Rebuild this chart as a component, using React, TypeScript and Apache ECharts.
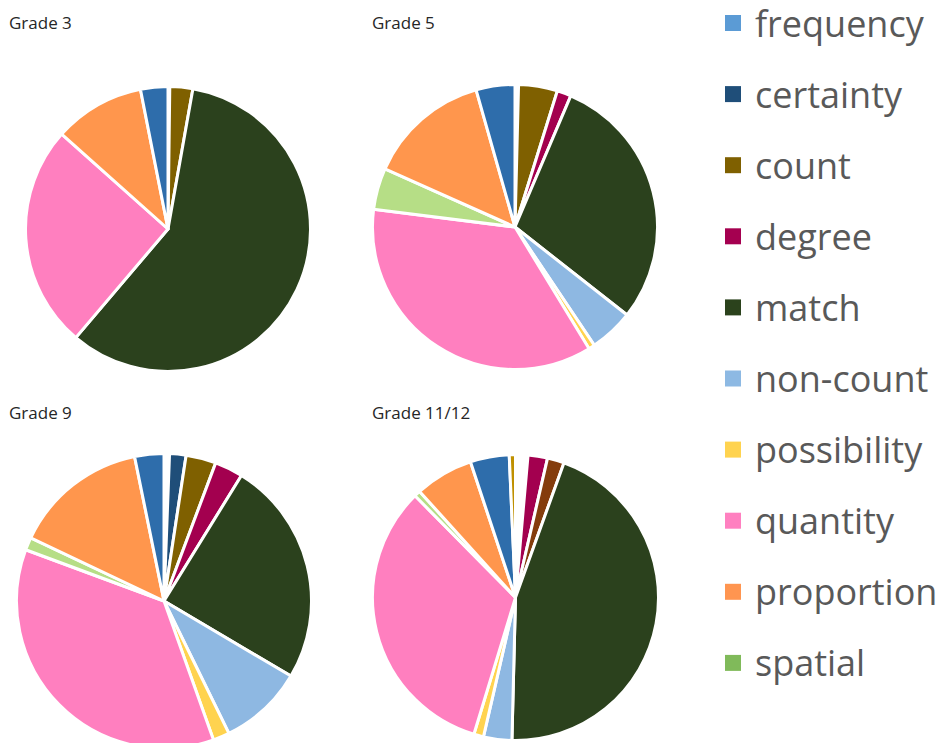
import React, { useEffect, useRef } from "react";
import * as echarts from "echarts";

// Slice order, clockwise from 12 o'clock
const categories = [
  "blank",
  "certainty",
  "count",
  "degree",
  "other (brown)",
  "match",
  "non-count",
  "possibility",
  "quantity",
  "spatial",
  "proportion",
  "frequency",
  "other (gold)",
];
const sliceColors = [
  "#FFFFFF",
  "#1F4E79",
  "#7F6000",
  "#A3004F",
  "#843C0C",
  "#2B411D",
  "#8EB8E2",
  "#FFD34F",
  "#FF7FBF",
  "#B6DE86",
  "#FF964D",
  "#2E6DAB",
  "#BF9000",
];

// Shares (%) per grade, in the order of `categories`
const grade3 = [0.2, 0, 2.6, 0, 0, 58.4, 0, 0, 25.4, 0, 10.3, 3.1, 0];
const grade5 = [0.4, 0, 4.4, 1.6, 0, 29.2, 5.0, 0.7, 35.7, 4.7, 13.9, 4.4, 0];
const grade9 = [0.6, 1.8, 3.3, 3.1, 0, 24.7, 9.25, 1.8, 36.1, 1.4, 14.75, 3.2, 0];
const grade1112 = [1.4, 0, 0, 2.2, 1.9, 44.9, 3.2, 1.1, 32.9, 0.7, 6.6, 4.4, 0.7];

const gradeTitles = ["Grade 3", "Grade 5", "Grade 9", "Grade 11/12"];
const gradeValues = [grade3, grade5, grade9, grade1112];

const legendNames = [
  "frequency",
  "certainty",
  "count",
  "degree",
  "match",
  "non-count",
  "possibility",
  "quantity",
  "proportion",
  "spatial",
];
const legendColors = [
  "#5B9BD5",
  "#1F4E79",
  "#7F6000",
  "#A50050",
  "#2B421C",
  "#8DB9E3",
  "#FFD34F",
  "#FF80C0",
  "#FF9550",
  "#80BA5A",
];

// layout
const pieCenters: [number, number][] = [
  [168, 229],
  [515, 227],
  [164, 601],
  [515.5, 597.5],
];
const pieRadii = [142.5, 142.5, 147.5, 143];
const titlePos: [number, number][] = [
  [9, 12],
  [372, 12],
  [9, 402],
  [372, 402],
];

export default function App() {
  const ref = useRef<HTMLDivElement>(null);

  useEffect(() => {
    if (!ref.current) return;
    const chart = echarts.init(ref.current, undefined, { renderer: "svg" });

    const series = gradeValues.map((vals, gi) => ({
      type: "pie",
      name: gradeTitles[gi],
      center: pieCenters[gi],
      radius: pieRadii[gi],
      startAngle: 90,
      clockwise: true,
      label: { show: false },
      labelLine: { show: false },
      emphasis: { disabled: true },
      itemStyle: { borderColor: "#FFFFFF", borderWidth: 3 },
      data: categories
        .map((c, i) => ({
          name: c,
          value: vals[i],
          itemStyle: { color: sliceColors[i] },
        }))
        .filter((d) => d.value > 0),
    }));

    chart.setOption({
      animation: false,
      backgroundColor: "#FFFFFF",
      title: gradeTitles.map((t, i) => ({
        text: t,
        left: titlePos[i][0],
        top: titlePos[i][1],
        padding: 0,
        textStyle: {
          fontFamily: "Open Sans",
          fontSize: 17,
          fontWeight: "normal",
          color: "#262626",
          lineHeight: 20,
        },
      })),
      legend: {
        orient: "vertical",
        left: 725,
        top: 3,
        padding: 0,
        itemWidth: 16,
        itemHeight: 16,
        itemGap: 31.1,
        icon: "rect",
        selectedMode: false,
        data: legendNames.map((n, i) => ({
          name: n,
          itemStyle: { color: legendColors[i], borderWidth: 0 },
        })),
        textStyle: {
          fontFamily: "Open Sans",
          fontSize: 36,
          color: "#595959",
          lineHeight: 40,
          padding: [0, 0, 0, 9],
        },
      },
      series,
    });

    return () => chart.dispose();
  }, []);

  return (
    <div
      ref={ref}
      style={{ position: "fixed", left: 0, top: 0, width: 942, height: 743 }}
    />
  );
}
